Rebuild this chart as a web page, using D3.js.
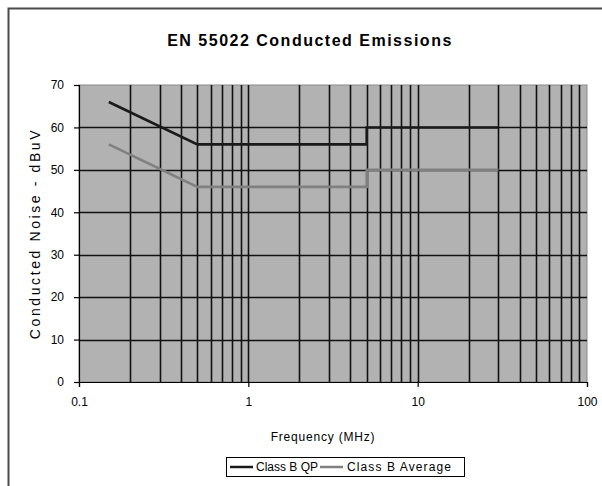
<!DOCTYPE html>
<html><head><meta charset="utf-8">
<script src="https://cdn.jsdelivr.net/npm/d3@7"></script>
<style>
html,body{margin:0;padding:0;background:#fff;overflow:hidden;}
svg{display:block;}
text{font-family:"Liberation Sans",Arial,sans-serif;fill:#000;}
</style></head>
<body>
<script>
const title = "EN 55022 Conducted Emissions";
const xTitle = "Frequency (MHz)";
const yTitle = "Conducted Noise - dBuV";
const xTicks = [0.1, 1, 10, 100];
const yTicks = [0, 10, 20, 30, 40, 50, 60, 70];
const qpFreq = [0.15, 0.5, 5, 5, 30];
const qpLevel = [66, 56, 56, 60, 60];
const avgFreq = [0.15, 0.5, 5, 5, 30];
const avgLevel = [56, 46, 46, 50, 50];
const seriesNames = ["Class B QP", "Class B Average"];

(function () {
const W = 602, H = 486;
const pL = 79, pR = 587, pT = 85, pB = 382;
const FONT = "Liberation Sans, Arial, sans-serif";

const svg = d3.select("body").append("svg").attr("width", W).attr("height", H);

// outer chart border
svg.append("rect").attr("x", 8.5).attr("y", 8.5).attr("width", 700).attr("height", 700)
  .attr("fill", "#fff").attr("stroke", "#4a4a4a").attr("stroke-width", 2);

const x = d3.scaleLog().domain([0.1, 100]).range([pL, pR]);
const y = d3.scaleLinear().domain([0, 70]).range([pB, pT]);

// plot background
svg.append("rect").attr("x", pL).attr("y", pT).attr("width", pR - pL).attr("height", pB - pT)
  .attr("fill", "#b2b2b2").attr("stroke", "#8a8a8a").attr("stroke-width", 1);

// vertical minor gridlines (2..9 of each decade, plus decades)
const vGrid = [];
for (let e = -1; e < 2; e++) for (let k = 1; k < 10; k++) {
  const v = +(k * Math.pow(10, e)).toPrecision(3);
  if (v > 0.1 && v < 100) vGrid.push(v);
}
svg.append("g").selectAll("line").data(vGrid).join("line")
  .attr("x1", d => Math.round(x(d)) + 0.5).attr("x2", d => Math.round(x(d)) + 0.5)
  .attr("y1", pT).attr("y2", pB)
  .attr("stroke", "#111").attr("stroke-width", 1.6);

// horizontal gridlines
svg.append("g").selectAll("line").data(yTicks.filter(v => v > 0 && v < 70)).join("line")
  .attr("x1", pL).attr("x2", pR)
  .attr("y1", d => Math.round(y(d)) + 0.5).attr("y2", d => Math.round(y(d)) + 0.5)
  .attr("stroke", "#111").attr("stroke-width", 1.6);

// series
const line = d3.line().x(d => x(d[0])).y(d => y(d[1]));
svg.append("path").datum(d3.zip(avgFreq, avgLevel)).attr("d", line)
  .attr("fill", "none").attr("stroke", "#808080").attr("stroke-width", 2.6);
svg.append("path").datum(d3.zip(qpFreq, qpLevel)).attr("d", line)
  .attr("fill", "none").attr("stroke", "#1a1a1a").attr("stroke-width", 2.6);

// axes
const yAxis = svg.append("g").attr("transform", `translate(${pL},0)`)
  .call(d3.axisLeft(y).tickValues(yTicks).tickSize(5).tickPadding(10));
const xAxis = svg.append("g").attr("transform", `translate(0,${pB})`)
  .call(d3.axisBottom(x).tickValues(xTicks).tickFormat(d => String(d)).tickSize(5).tickPadding(10));
[yAxis, xAxis].forEach(g => {
  g.select(".domain").attr("stroke", "#000").attr("stroke-width", 1.2);
  g.selectAll(".tick line").attr("stroke", "#000").attr("stroke-width", 1.2);
  g.selectAll("text").attr("font-family", FONT).attr("font-size", 12).attr("fill", "#000");
});

// titles
svg.append("text").attr("x", 310).attr("y", 46).attr("text-anchor", "middle")
  .attr("font-size", 16).attr("font-weight", "bold").attr("letter-spacing", 1.5).text(title);
svg.append("text").attr("x", 323).attr("y", 441).attr("text-anchor", "middle")
  .attr("font-size", 12).attr("letter-spacing", 0.8).text(xTitle);
svg.append("text").attr("transform", `translate(40,${(pT + pB) / 2}) rotate(-90)`)
  .attr("text-anchor", "middle").attr("font-size", 14).attr("letter-spacing", 2.6).text(yTitle);

// legend
const lg = svg.append("g");
const lx = 226, ly = 457, lw = 238, lh = 19;
lg.append("rect").attr("x", lx + 0.5).attr("y", ly + 0.5).attr("width", lw).attr("height", lh)
  .attr("fill", "#fff").attr("stroke", "#000").attr("stroke-width", 1);
const items = [
  {name: seriesNames[0], color: "#1a1a1a", x0: lx + 4, tx: lx + 30, ls: 0},
  {name: seriesNames[1], color: "#808080", x0: lx + 94, tx: lx + 121, ls: 1.1}
];
items.forEach(it => {
  lg.append("line").attr("x1", it.x0).attr("x2", it.x0 + 23).attr("y1", ly + lh / 2 + 0.5).attr("y2", ly + lh / 2 + 0.5)
    .attr("stroke", it.color).attr("stroke-width", 2.5);
  lg.append("text").attr("x", it.tx).attr("y", ly + lh / 2 + 4.5).attr("font-size", 12)
    .attr("letter-spacing", it.ls).text(it.name);
});
})();
</script>
</body></html>
